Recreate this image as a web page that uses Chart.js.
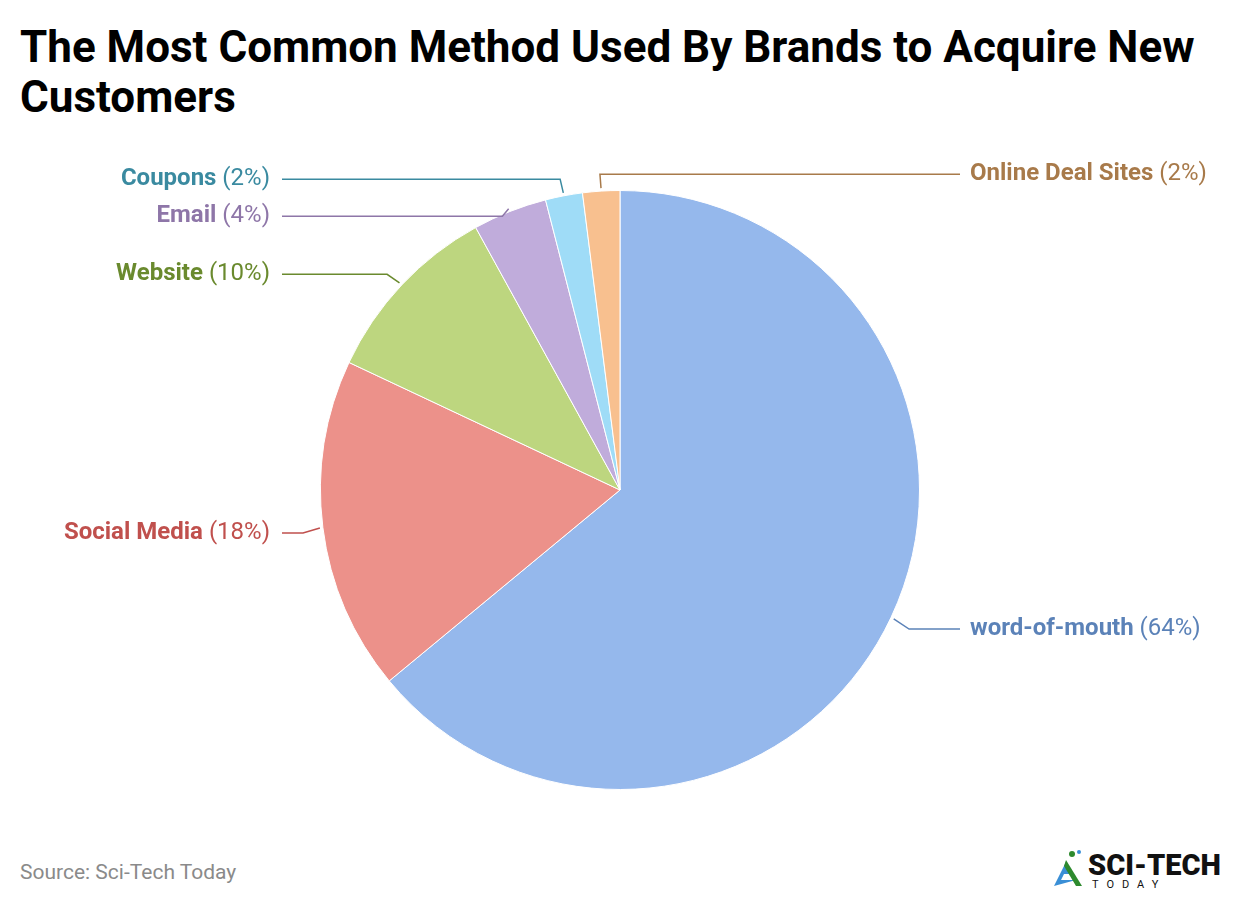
<!DOCTYPE html>
<html><head><meta charset="utf-8">
<script src="https://cdn.jsdelivr.net/npm/chart.js@4"></script>
<style>
body{margin:0;width:1240px;height:906px;background:#fff;font-family:Roboto,sans-serif;position:relative;overflow:hidden}
h1{position:absolute;left:20px;top:22px;margin:0;font-size:44px;line-height:50px;font-weight:700;color:#000;width:1215px}
#wrap{position:absolute;left:0;top:140px;width:1240px;height:700px}
#src{position:absolute;left:20px;top:860px;font-size:21px;color:#8a8a8a}
#logo{position:absolute;left:1052px;top:848px}
#logo .a{position:absolute;left:36px;top:0;font-size:29px;font-weight:900;color:#111;white-space:nowrap}
#logo .b{position:absolute;left:40px;top:30px;font-size:11px;letter-spacing:8px;color:#111}
</style></head><body>
<h1>The Most Common Method Used By Brands to Acquire New Customers</h1>
<div id="wrap"><canvas id="c"></canvas></div>
<div id="src">Source: Sci-Tech Today</div>
<div id="logo">
<svg width="36" height="40" style="position:absolute;left:0;top:0"><path d="M2 38 L14 14 L20 26 L12 26 L9 32 L24 32 Z" fill="#3a8fd6"/><path d="M14 12 L30 38 L24 38 L12 18Z" fill="#2e8a2e"/><circle cx="20" cy="6" r="3" fill="#2e8a2e"/><circle cx="27" cy="4" r="2" fill="#3a8fd6"/></svg>
<div class="a">SCI-TECH</div><div class="b">TODAY</div></div>
<script>
const categories=["word-of-mouth","Social Media","Website","Email","Coupons","Online Deal Sites"];
const values=[64,18,10,4,2,2];
const colors=["#95b8ec","#ec918a","#bdd67f","#c0acdb","#9fdcf7","#f8c08f"];
const textColors=["#5b82b8","#c0504d","#6a8a2e","#8e76a8","#3a8aa0","#a87a4a"];
const leader={id:'leader',afterDraw(chart){
 const ctx=chart.ctx, meta=chart.getDatasetMeta(0);
 const items=[];
 meta.data.forEach((arc,i)=>{
  const a=(arc.startAngle+arc.endAngle)/2, r=arc.outerRadius;
  const px=arc.x+Math.cos(a)*(r+3), py=arc.y+Math.sin(a)*(r+3);
  const ex=arc.x+Math.cos(a)*(r+20), ey=arc.y+Math.sin(a)*(r+20)+3;
  items.push({i,px,py,ex,ey,right:Math.cos(a)>=-0.1,cx:arc.x});
 });
 const left=items.filter(o=>!o.right).sort((a,b)=>a.ey-b.ey);
 for(let k=1;k<left.length;k++) if(left[k].ey-left[k-1].ey<37) left[k].ey=left[k-1].ey+37;
 items.forEach(o=>{
  const i=o.i, lx=o.right?o.cx+340:o.cx-338;
  ctx.save();ctx.strokeStyle=textColors[i];ctx.lineWidth=1.5;
  ctx.beginPath();ctx.moveTo(o.px,o.py);ctx.lineTo(o.ex,o.ey);ctx.lineTo(lx,o.ey);ctx.stroke();
  ctx.textBaseline='middle';
  const name=categories[i], pct=' ('+values[i]+'%)';
  ctx.font='bold 24px Roboto';const w1=ctx.measureText(name).width;
  ctx.font='24px Roboto';const w2=ctx.measureText(pct).width;
  let x=o.right?lx+10:lx-12-w1-w2;
  ctx.fillStyle=textColors[i];
  ctx.font='bold 24px Roboto';ctx.fillText(name,x,o.ey);
  ctx.font='24px Roboto';ctx.fillText(pct,x+w1,o.ey);
  ctx.restore();
 });
}};
new Chart(document.getElementById('c'),{type:'pie',
 data:{labels:categories,datasets:[{data:values,backgroundColor:colors,borderColor:'#fff',borderWidth:1}]},
 options:{responsive:true,maintainAspectRatio:false,animation:false,
  layout:{padding:{top:50,bottom:50}},
  plugins:{legend:{display:false},tooltip:{enabled:false}}},
 plugins:[leader]});
</script></body></html>
